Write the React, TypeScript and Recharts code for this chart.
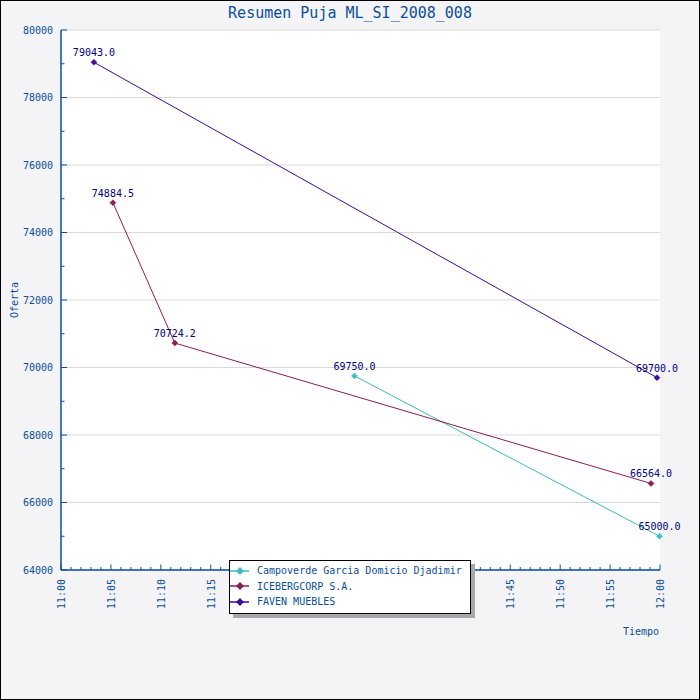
import React from 'react';
import {
  LineChart,
  Line,
  XAxis,
  YAxis,
  CartesianGrid,
  Legend,
  LabelList,
} from 'recharts';

const TITLE = 'Resumen Puja ML_SI_2008_008';
const seriesNames = ['Campoverde Garcia Domicio Djadimir', 'ICEBERGCORP S.A.', 'FAVEN MUEBLES'];
const seriesColors = ['#3fbcbc', '#8b1c58', '#3d0c99'];

// minutes after 11:00
const campoTimes = [29.4, 59.95];
const campoValues = [69750.0, 65000.0];
const iceTimes = [5.2, 11.4, 59.1];
const iceValues = [74884.5, 70724.2, 66564.0];
const favenTimes = [3.3, 59.7];
const favenValues = [79043.0, 69700.0];

const xTicks = Array.from({ length: 61 }, (_, i) => i);
const yTicks = Array.from({ length: 17 }, (_, i) => 64000 + i * 1000);
const gridValues = yTicks.filter((v) => v % 2000 === 0);

const campoData = campoTimes.map((t, i) => ({ t, v: campoValues[i] }));
const iceData = iceTimes.map((t, i) => ({ t, v: iceValues[i] }));
const favenData = favenTimes.map((t, i) => ({ t, v: favenValues[i] }));
const allSeries = [campoData, iceData, favenData];

const FONT = '"DejaVu Sans Mono", monospace';
const BLUE = '#0b4f9c';

const fmtTime = (m: number) => {
  const h = 11 + Math.floor(m / 60);
  const mm = m % 60;
  return `${h}:${mm < 10 ? '0' : ''}${mm}`;
};

const XTick = (props: any) => {
  const { x, y, payload } = props;
  const v = payload.value as number;
  const major = v % 5 === 0;
  return (
    <g>
      <line x1={x} y1={y} x2={x} y2={y - (major ? 5.5 : 3)} stroke={BLUE} strokeWidth={1} />
      {major && (
        <text
          x={x}
          y={y + 9}
          dy={4}
          transform={`rotate(-90, ${x}, ${y + 9})`}
          textAnchor="end"
          fill={BLUE}
          fontSize={10}
          fontFamily={FONT}
        >
          {fmtTime(v)}
        </text>
      )}
    </g>
  );
};

const YTick = (props: any) => {
  const { x, y, payload } = props;
  const v = payload.value as number;
  const major = v % 2000 === 0;
  return (
    <g>
      <line x1={x} y1={y} x2={x + (major ? 6 : 3.5)} y2={y} stroke={BLUE} strokeWidth={1} />
      {major && (
        <text x={x - 8} y={y} dy={3.5} textAnchor="end" fill={BLUE} fontSize={10} fontFamily={FONT}>
          {v}
        </text>
      )}
    </g>
  );
};

const makeDot = (color: string) => (p: any) => {
  const { cx, cy, index } = p;
  if (cx == null || cy == null) return <g key={index} />;
  const r = 3;
  return (
    <polygon
      key={index}
      points={`${cx},${cy - r} ${cx + r},${cy} ${cx},${cy + r} ${cx - r},${cy}`}
      fill={color}
      stroke={color}
      strokeWidth={0.5}
    />
  );
};

const LegendBox = () => (
  <div
    style={{
      background: '#fff',
      border: '1px solid #000',
      boxShadow: '4px 4px 0 #a8a8a8',
      width: 240,
      height: 50,
      boxSizing: 'content-box',
      paddingTop: 2,
      fontFamily: FONT,
      fontSize: 10,
      color: BLUE,
      textAlign: 'left',
    }}
  >
    {seriesNames.map((n, i) => (
      <div key={n} style={{ display: 'flex', alignItems: 'center', height: 15.5 }}>
        <svg width={27} height={12} style={{ flex: 'none' }}>
          <line x1={0} y1={6} x2={19} y2={6} stroke={seriesColors[i]} strokeWidth={1.5} />
          <polygon points={`10,2 14,6 10,10 6,6`} fill={seriesColors[i]} />
        </svg>
        <span style={{ whiteSpace: 'nowrap' }}>{n}</span>
      </div>
    ))}
  </div>
);

export default function App() {
  return (
    <div style={{ position: 'absolute', left: 0, top: 0, width: 700, height: 700 }}>
      <LineChart
        width={700}
        height={700}
        margin={{ top: 30, right: 40, bottom: 70, left: 0 }}
        style={{ background: '#f4f4f6', fontFamily: FONT }}
      >
        <CartesianGrid
          vertical={false}
          horizontalValues={gridValues}
          stroke="#d9d9d9"
          fill="#ffffff"
          fillOpacity={1}
        />
        <XAxis
          dataKey="t"
          type="number"
          domain={[0, 60]}
          ticks={xTicks}
          interval={0}
          tickSize={0}
          tickMargin={0}
          tickLine={false}
          height={60}
          allowDuplicatedCategory={false}
          axisLine={{ stroke: BLUE, strokeWidth: 1.5 }}
          tick={<XTick />}
        />
        <YAxis
          type="number"
          domain={[64000, 80000]}
          ticks={yTicks}
          interval={0}
          width={61}
          tickSize={0}
          tickMargin={0}
          tickLine={false}
          axisLine={{ stroke: BLUE, strokeWidth: 1.5 }}
          tick={<YTick />}
        />
        <Legend
          layout="horizontal"
          verticalAlign="middle"
          align="center"
          wrapperStyle={{ position: 'absolute', left: 229, top: 560, width: 242, height: 53 }}
          content={() => <LegendBox />}
        />
        {allSeries.map((d, i) => (
          <Line
            key={seriesNames[i]}
            name={seriesNames[i]}
            data={d}
            dataKey="v"
            stroke={seriesColors[i]}
            strokeWidth={1}
            dot={makeDot(seriesColors[i])}
            activeDot={false}
            isAnimationActive={false}
          >
            <LabelList
              dataKey="v"
              position="top"
              offset={6}
              formatter={(v: any) => Number(v).toFixed(1)}
              fill="#000080"
              fontSize={10}
              fontFamily={FONT}
            />
          </Line>
        ))}
        <text x={350} y={18} textAnchor="middle" fill={BLUE} fontSize={15} fontFamily={FONT}>
          {TITLE}
        </text>
        <text
          x={14}
          y={300}
          dy={4}
          transform="rotate(-90, 14, 300)"
          textAnchor="middle"
          fill={BLUE}
          fontSize={10}
          fontFamily={FONT}
        >
          Oferta
        </text>
        <text x={659} y={635} textAnchor="end" fill={BLUE} fontSize={10} fontFamily={FONT}>
          Tiempo
        </text>
      </LineChart>
      <div
        style={{
          position: 'absolute',
          left: 0,
          top: 0,
          width: 700,
          height: 700,
          boxSizing: 'border-box',
          border: '1px solid #000',
          pointerEvents: 'none',
        }}
      />
    </div>
  );
}
